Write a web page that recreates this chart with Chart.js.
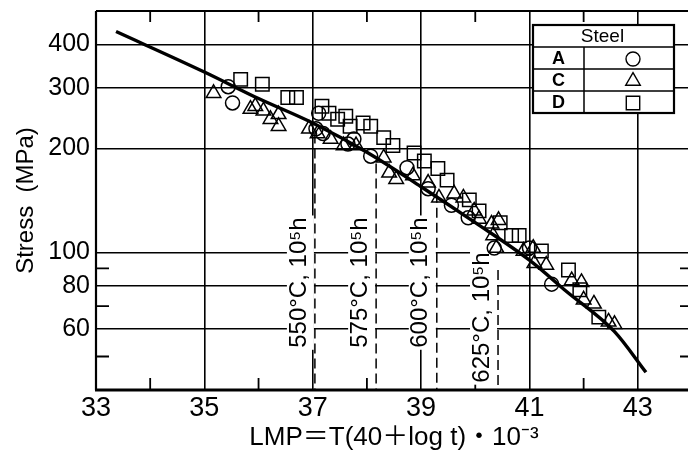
<!DOCTYPE html>
<html>
<head>
<meta charset="utf-8">
<script src="https://cdn.jsdelivr.net/npm/chart.js@4.4.1/dist/chart.umd.min.js"></script>
<style>
html, body { margin: 0; padding: 0; background: #fff; overflow: hidden; }
#wrap { position: relative; width: 694px; height: 459px; }
</style>
</head>
<body>
<div id="wrap"><canvas id="lmp-chart"></canvas></div>
<script>
// axis ticks
const xLabels = [33, 35, 37, 39, 41, 43];
const xMinor = [34, 36, 38, 40, 42];
const yLabels = [60, 80, 100, 200, 300, 400];
const yMinor = [50, 70, 90];

// [LMP, stress MPa]
const steelA = [[35.44, 302], [35.52, 271], [37.11, 253], [37.06, 228], [37.19, 221], [37.65, 206],
    [37.76, 213], [38.07, 190], [38.74, 176], [39.13, 153], [39.56, 137], [39.87, 126],
    [40.35, 103], [41.0, 103], [41.41, 81]];
const steelC = [[35.17, 289], [35.85, 260], [35.94, 265], [36.09, 257], [36.22, 243], [36.37, 251],
    [36.37, 232], [36.93, 228], [37.09, 221], [37.33, 213], [37.57, 204], [37.80, 204],
    [38.31, 188], [38.41, 170], [38.54, 163], [38.85, 167], [39.13, 159], [39.33, 144],
    [39.61, 148], [39.78, 144], [39.98, 132], [40.07, 125], [40.30, 121], [40.43, 124],
    [40.33, 112], [40.39, 103], [40.89, 101], [41.07, 103], [41.09, 93], [41.31, 92],
    [41.78, 83], [41.96, 82], [42.0, 73], [42.19, 71], [42.46, 63], [42.57, 62]];
const steelD = [[35.67, 317], [36.07, 307], [36.54, 281], [36.70, 281], [37.17, 265], [37.30, 253],
    [37.46, 243], [37.61, 248], [37.69, 232], [37.93, 237], [38.07, 232], [38.31, 215],
    [38.48, 204], [38.87, 194], [39.06, 184], [39.31, 175], [39.48, 162], [39.89, 142],
    [40.07, 132], [40.46, 122], [40.67, 112], [40.81, 112], [41.22, 101], [41.72, 89],
    [41.93, 78], [42.28, 65]];

// master curve
const curveLMP = [33.37, 35, 36, 37, 38, 39, 40, 41, 41.69, 42.57, 43.15];
const curveStress = [436, 333, 279, 237, 195, 155, 122, 95, 77, 59, 45];

// 10^5 h lines
const dashLMP = [37.04, 38.17, 39.29, 40.42];
const dashTop = [221, 181, 149, 89];
const dashText = ['550°C, 10⁵h', '575°C, 10⁵h', '600°C, 10⁵h', '625°C, 10⁵h'];

const legendRows = [['A', 'circle'], ['C', 'triangle'], ['D', 'rect']];

const toXY = arr => arr.map(p => ({x: p[0], y: p[1]}));
const sans = "'Liberation Sans', Arial, sans-serif";
const regular = "'Liberation Sans', 'Noto Sans CJK JP', Arial, sans-serif";
const labelBase = [53, 53, 53, 42];

const markerStyle = {
    circle: {pointStyle: 'circle', radius: 7},
    triangle: {pointStyle: 'triangle', radius: 8.4},
    rect: {pointStyle: 'rect', radius: 9.5}
};

const datasets = [{
    type: 'line',
    label: 'curve',
    data: curveLMP.map((v, i) => ({x: v, y: curveStress[i]})),
    borderColor: '#000',
    borderWidth: 3.4,
    pointRadius: 0,
    cubicInterpolationMode: 'monotone'
}];

[['A', steelA, 'circle'], ['C', steelC, 'triangle'], ['D', steelD, 'rect']].forEach(s => {
    datasets.push({
        label: s[0],
        data: toXY(s[1]),
        pointStyle: markerStyle[s[2]].pointStyle,
        pointRadius: markerStyle[s[2]].radius,
        pointBorderWidth: 1.5,
        pointBorderColor: '#000',
        pointBackgroundColor: 'rgba(255,255,255,0)'
    });
});

dashLMP.forEach((v, i) => {
    datasets.push({
        type: 'line',
        label: dashText[i],
        data: [{x: v, y: dashTop[i]}, {x: v, y: 40}],
        borderColor: '#000',
        borderWidth: 1.5,
        borderDash: [10, 5],
        pointRadius: 0
    });
});

// frame, inner minor ticks and rotated labels under the marks
const framePlugin = {
    id: 'framePlugin',
    beforeDatasetsDraw(chart) {
        const ctx = chart.ctx;
        const {left, right, top, bottom} = chart.chartArea;
        const xs = chart.scales.x, ys = chart.scales.y;
        ctx.save();
        ctx.strokeStyle = '#000';
        ctx.lineWidth = 1.8;
        xMinor.forEach(v => {
            const px = xs.getPixelForValue(v);
            ctx.beginPath();
            ctx.moveTo(px, bottom); ctx.lineTo(px, bottom - 12);
            ctx.moveTo(px, top); ctx.lineTo(px, top + 11);
            ctx.stroke();
        });
        yMinor.forEach(v => {
            const py = ys.getPixelForValue(v);
            ctx.beginPath();
            ctx.moveTo(left, py); ctx.lineTo(left + 13, py);
            ctx.moveTo(right, py); ctx.lineTo(right - 12, py);
            ctx.stroke();
        });

        ctx.font = '24px ' + sans;
        ctx.textBaseline = 'middle';
        ctx.textAlign = 'left';
        dashLMP.forEach((v, i) => {
            const dx = xs.getPixelForValue(v);
            const cx = dx - 17;
            const by = ys.getPixelForValue(labelBase[i]);
            const w = ctx.measureText(dashText[i]).width;
            ctx.fillStyle = '#fff';
            ctx.fillRect(cx - 11, by - w - 2, dx - 1 - (cx - 11), w + 4);
            ctx.save();
            ctx.translate(cx, by);
            ctx.rotate(-Math.PI / 2);
            ctx.fillStyle = '#000';
            ctx.fillText(dashText[i], 0, 1);
            ctx.restore();
        });

        ctx.lineWidth = 2.2;
        ctx.beginPath();
        ctx.moveTo(left, top); ctx.lineTo(right, top);
        ctx.moveTo(left, top); ctx.lineTo(left, bottom);
        ctx.stroke();
        ctx.lineWidth = 3;
        ctx.beginPath();
        ctx.moveTo(left - 1, bottom); ctx.lineTo(right, bottom);
        ctx.stroke();
        ctx.restore();
    }
};

const steelTable = {
    id: 'steelTable',
    afterDraw(chart) {
        const ctx = chart.ctx;
        const area = chart.chartArea;
        const x0 = area.right - 159, y0 = area.top + 14;
        const w = 141, rowH = 22, colX = x0 + 51;
        const h = rowH * (legendRows.length + 1);
        ctx.save();
        ctx.fillStyle = '#fff';
        ctx.fillRect(x0, y0, w, h);
        ctx.strokeStyle = '#000';
        ctx.lineWidth = 1.5;
        ctx.beginPath();
        for (let i = 1; i <= legendRows.length; i++) {
            ctx.moveTo(x0, y0 + rowH * i);
            ctx.lineTo(x0 + w, y0 + rowH * i);
        }
        ctx.moveTo(colX, y0 + rowH);
        ctx.lineTo(colX, y0 + h);
        ctx.stroke();
        ctx.lineWidth = 2.2;
        ctx.strokeRect(x0, y0, w, h);

        ctx.fillStyle = '#000';
        ctx.textAlign = 'center';
        ctx.textBaseline = 'middle';
        ctx.font = '19px ' + sans;
        ctx.fillText('Steel', x0 + w / 2 - 1, y0 + rowH / 2 + 1);
        legendRows.forEach((r, i) => {
            const cy = y0 + rowH * (i + 1) + rowH / 2;
            ctx.fillStyle = '#000';
            ctx.font = 'bold 18px ' + sans;
            ctx.fillText(r[0], (x0 + colX) / 2, cy + 1);
            ctx.fillStyle = '#fff';
            ctx.lineWidth = 1.4;
            Chart.helpers.drawPoint(ctx, {
                pointStyle: markerStyle[r[1]].pointStyle,
                radius: markerStyle[r[1]].radius,
                rotation: 0,
                borderWidth: 1.4
            }, (colX + x0 + w) / 2 + 4, cy + 1);
        });
        ctx.restore();
    }
};

const chart = new Chart(document.getElementById('lmp-chart'), {
    type: 'scatter',
    data: {datasets: datasets},
    options: {
        animation: false,
        responsive: true,
        maintainAspectRatio: false,
        layout: {padding: {top: 9, right: 2, left: 0, bottom: 0}},
        plugins: {legend: {display: false}, tooltip: {enabled: false}},
        scales: {
            x: {
                type: 'linear',
                min: 33,
                max: 44,
                afterBuildTicks: scale => { scale.ticks = xLabels.concat(xMinor, [44]).sort((a, b) => a - b).map(v => ({value: v})); },
                afterFit: scale => { scale.height = 69; scale.paddingLeft = 0; scale.paddingRight = 0; },
                ticks: {
                    autoSkip: false,
                    maxRotation: 0,
                    padding: 2,
                    color: '#000',
                    font: {family: sans, size: 27},
                    callback: v => xLabels.includes(v) ? String(v) : ''
                },
                grid: {
                    drawTicks: false,
                    lineWidth: 1.6,
                    color: c => (c.tick && xLabels.includes(c.tick.value) && c.tick.value !== 33) ? '#000' : 'rgba(0,0,0,0)'
                },
                border: {display: false},
                title: {
                    display: true,
                    text: 'LMP＝T(40＋log t)・10⁻³',
                    color: '#000',
                    font: {family: regular, size: 26},
                    padding: {top: 0, bottom: 6}
                }
            },
            y: {
                type: 'logarithmic',
                min: 40,
                max: 500,
                afterBuildTicks: scale => { scale.ticks = [40, 50, 60, 70, 80, 90, 100, 200, 300, 400, 500].map(v => ({value: v})); },
                afterFit: scale => { scale.width = 96; scale.paddingTop = 0; scale.paddingBottom = 0; },
                ticks: {
                    autoSkip: false,
                    padding: 6,
                    color: '#000',
                    font: {family: sans, size: 25},
                    callback: v => yLabels.includes(v) ? String(v) : ''
                },
                grid: {
                    drawTicks: false,
                    lineWidth: 1.6,
                    color: c => (c.tick && yLabels.includes(c.tick.value)) ? '#000' : 'rgba(0,0,0,0)'
                },
                border: {display: false},
                title: {
                    display: true,
                    text: 'Stress  (MPa)',
                    color: '#000',
                    font: {family: regular, size: 24},
                    padding: {top: 12, bottom: 0}
                }
            }
        }
    },
    plugins: [framePlugin, steelTable]
});

// plot frame should end at x=692 (LMP 44 just past the photo's edge)
const wrap = document.getElementById('wrap');
const extra = 692 - chart.chartArea.right;
if (extra !== 0) {
    wrap.style.width = (694 + extra) + 'px';
    chart.resize();
}
</script>
</body>
</html>
